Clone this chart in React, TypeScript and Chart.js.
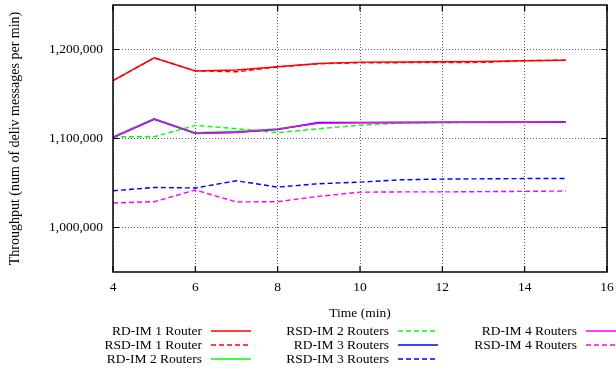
import React, { useEffect, useRef } from "react";
import { Chart, registerables } from "chart.js";

Chart.register(...registerables);

const times = [4, 5, 6, 7, 8, 9, 10, 11, 12, 13, 14, 15];
const rdIm1 = [1165000, 1190700, 1175800, 1176900, 1180600, 1184200, 1185800, 1186000, 1186200, 1186500, 1187400, 1188000];
const rsdIm1 = [1165000, 1190500, 1176000, 1175000, 1180400, 1184000, 1185000, 1185200, 1185400, 1185500, 1187500, 1188000];
const rdIm2 = [1102000, 1122600, 1106500, 1108000, 1111000, 1117700, 1117800, 1117900, 1118000, 1118100, 1118300, 1118400];
const rsdIm2 = [1102000, 1102000, 1114700, 1111000, 1106500, 1111000, 1115000, 1117300, 1117700, 1117900, 1118100, 1118300];
const rdIm3 = [1101000, 1121500, 1105800, 1107000, 1110000, 1118000, 1118000, 1118000, 1118200, 1118300, 1118400, 1118500];
const rsdIm3 = [1041300, 1045000, 1044400, 1052500, 1045400, 1049200, 1051000, 1053600, 1054400, 1054700, 1055000, 1055000];
const rdIm4 = [1101000, 1122000, 1105500, 1106800, 1110500, 1117200, 1117700, 1118000, 1118100, 1118200, 1118300, 1118400];
const rsdIm4 = [1027600, 1029000, 1042100, 1028700, 1029000, 1035000, 1039700, 1040000, 1040000, 1040300, 1040600, 1041000];

const seriesLabels = [
  "RD-IM 1 Router",
  "RSD-IM 1 Router",
  "RD-IM 2 Routers",
  "RSD-IM 2 Routers",
  "RD-IM 3 Routers",
  "RSD-IM 3 Routers",
  "RD-IM 4 Routers",
  "RSD-IM 4 Routers",
];
const seriesValues = [rdIm1, rsdIm1, rdIm2, rsdIm2, rdIm3, rsdIm3, rdIm4, rsdIm4];
const seriesColors = ["#ff0000", "#ff0000", "#00ff00", "#00ff00", "#0000ff", "#0000ff", "#ff00ff", "#ff00ff"];
const seriesDashed = [false, true, false, true, false, true, false, true];

const yTickValues = [1000000, 1100000, 1200000];
const xTitle = "Time (min)";
const yTitle = "Throughput (num of deliv messages per min)";

const FONT = "'Liberation Serif', 'Times New Roman', serif";
const FS = 13.5;
const DASH = [5, 3];

const framePlugin = {
  id: "frame",
  afterDraw(chart: any) {
    const { ctx, chartArea } = chart;
    const { left, right, top, bottom } = chartArea;
    const xs = chart.scales.x;
    const ys = chart.scales.y;
    ctx.save();
    ctx.strokeStyle = "#000";
    ctx.lineWidth = 1.5;
    ctx.setLineDash([]);
    ctx.strokeRect(left, top, right - left, bottom - top);
    ctx.lineWidth = 1.2;
    ctx.beginPath();
    for (let v = 4; v <= 16; v += 2) {
      const px = xs.getPixelForValue(v);
      ctx.moveTo(px, bottom);
      ctx.lineTo(px, bottom - 6);
      ctx.moveTo(px, top);
      ctx.lineTo(px, top + 6);
    }
    for (const v of yTickValues) {
      const py = ys.getPixelForValue(v);
      ctx.moveTo(left, py);
      ctx.lineTo(left + 6, py);
      ctx.moveTo(right, py);
      ctx.lineTo(right - 6, py);
    }
    ctx.stroke();

    // titles
    ctx.fillStyle = "#000";
    ctx.font = `${FS}px ${FONT}`;
    ctx.textAlign = "center";
    ctx.textBaseline = "middle";
    ctx.fillText(xTitle, (left + right) / 2, 313);
    ctx.save();
    ctx.font = `14px ${FONT}`;
    ctx.translate(15, (top + bottom) / 2);
    ctx.rotate(-Math.PI / 2);
    ctx.fillText(yTitle, 0, 0);
    ctx.restore();

    // legend
    const colText = [202, 389, 577];
    const rowY = [331, 345, 359];
    seriesLabels.forEach((lab, i) => {
      const c = Math.floor(i / 3);
      const r = i % 3;
      const tx = colText[c];
      const ty = rowY[r];
      ctx.textAlign = "right";
      ctx.fillStyle = "#000";
      ctx.fillText(lab, tx, ty);
      ctx.strokeStyle = seriesColors[i];
      ctx.lineWidth = 1.3;
      ctx.setLineDash(seriesDashed[i] ? DASH : []);
      ctx.beginPath();
      ctx.moveTo(tx + 9, ty);
      ctx.lineTo(tx + 49, ty);
      ctx.stroke();
    });
    ctx.restore();
  },
};

export default function App() {
  const ref = useRef<HTMLCanvasElement | null>(null);
  useEffect(() => {
    if (!ref.current) return;
    const datasets = seriesLabels.map((label, i) => ({
      label,
      data: times.map((t, k) => ({ x: t, y: seriesValues[i][k] })),
      borderColor: seriesColors[i],
      backgroundColor: seriesColors[i],
      borderWidth: 1.4,
      borderDash: seriesDashed[i] ? DASH : [],
      pointRadius: 0,
      tension: 0,
      fill: false,
      order: seriesLabels.length - i,
    }));
    const chart = new Chart(ref.current, {
      type: "line",
      data: { datasets },
      options: {
        animation: false,
        responsive: false,
        devicePixelRatio: 1,
        layout: { padding: { left: 0, top: 5, right: 9, bottom: 0 } },
        plugins: {
          legend: { display: false },
          tooltip: { enabled: false },
          title: { display: false },
        },
        scales: {
          x: {
            type: "linear",
            min: 4,
            max: 16,
            ticks: {
              stepSize: 2,
              color: "#000",
              font: { family: FONT, size: FS },
              padding: 7,
              maxRotation: 0,
            },
            grid: { color: "rgba(0,0,0,0.65)", lineWidth: 1, drawTicks: false },
            border: { display: false, dash: [1, 2] },
            afterFit: (s: any) => {
              s.height = 97;
              s.paddingLeft = 0;
              s.paddingRight = 0;
            },
          },
          y: {
            type: "linear",
            min: 950000,
            max: 1250000,
            afterBuildTicks: (s: any) => {
              s.ticks = yTickValues.map((v) => ({ value: v }));
            },
            ticks: {
              color: "#000",
              font: { family: FONT, size: FS },
              padding: 10,
              callback: (v: any) => Number(v).toLocaleString("en-US"),
            },
            grid: { color: "rgba(0,0,0,0.65)", lineWidth: 1, drawTicks: false },
            border: { display: false, dash: [1, 2] },
            afterFit: (s: any) => {
              s.width = 113;
              s.paddingTop = 0;
              s.paddingBottom = 0;
            },
          },
        },
      },
      plugins: [framePlugin],
    });
    return () => chart.destroy();
  }, []);
  return (
    <div style={{ position: "absolute", left: 0, top: 0, width: 616, height: 369, background: "#fff" }}>
      <canvas ref={ref} width={616} height={369} style={{ display: "block" }} />
    </div>
  );
}
